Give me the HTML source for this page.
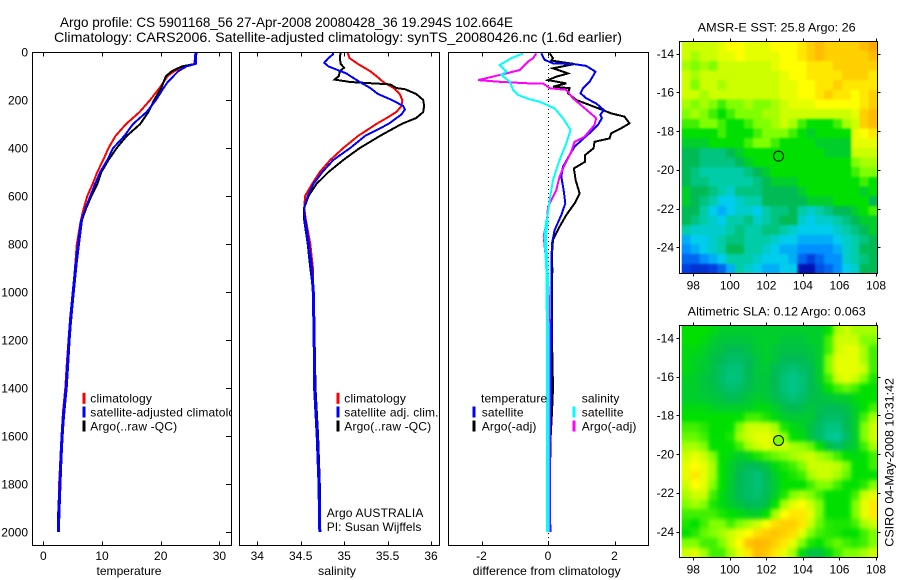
<!DOCTYPE html>
<html>
<head>
<meta charset="utf-8">
<title>Argo profile</title>
<style>
html,body{margin:0;padding:0;background:#fff;}
svg{display:block;}
text{font-family:"Liberation Sans",sans-serif;font-size:12px;fill:#000;}
</style>
</head>
<body>
<svg id="chart" width="900" height="580" viewBox="0 0 900 580" xmlns="http://www.w3.org/2000/svg">
<defs>
<filter id="blurSst" filterUnits="userSpaceOnUse" x="640" y="10" width="260" height="290" color-interpolation-filters="sRGB"><feGaussianBlur stdDeviation="1"/></filter>
<filter id="blurSla" filterUnits="userSpaceOnUse" x="640" y="295" width="260" height="285" color-interpolation-filters="sRGB"><feGaussianBlur stdDeviation="2"/></filter>
<clipPath id="clipSst"><rect x="681.7" y="41.5" width="195.8" height="232"/></clipPath>
<clipPath id="clipSla"><rect x="681.7" y="325.5" width="195.8" height="232"/></clipPath>
</defs>
<rect x="0" y="0" width="900" height="580" fill="#fff"/>
<text x="60" y="27" style="font-size:14px" textLength="453" lengthAdjust="spacingAndGlyphs">Argo profile: CS 5901168_56 27-Apr-2008 20080428_36 19.294S 102.664E</text>
<text x="54" y="42" style="font-size:14px" textLength="568" lengthAdjust="spacingAndGlyphs">Climatology: CARS2006. Satellite-adjusted climatology: synTS_20080426.nc (1.6d earlier)</text>
<g id="p1"></g>
<g id="p2"></g>
<g id="p3"></g>
<g id="m1"></g>
<g id="m2"></g>
<text x="776.7" y="31.5" text-anchor="middle" textLength="158" lengthAdjust="spacingAndGlyphs">AMSR-E SST: 25.8 Argo: 26</text>
<text x="776.7" y="315.5" text-anchor="middle" textLength="178" lengthAdjust="spacingAndGlyphs">Altimetric SLA: 0.12 Argo: 0.063</text>
<text transform="translate(893.5,546.7) rotate(-90)" textLength="168.7" lengthAdjust="spacingAndGlyphs">CSIRO 04-May-2008 10:31:42</text>
</svg>
<script>
// ---------- axis ticks ----------
const depthTicks = [0, 200, 400, 600, 800, 1000, 1200, 1400, 1600, 1800, 2000];
const tempTicks = [0, 10, 20, 30];
const salTicks = [34, 34.5, 35, 35.5, 36];
const diffTicks = [-2, 0, 2];
const lonTicks = [98, 100, 102, 104, 106, 108];
const latTicks = [-14, -16, -18, -20, -22, -24];

// ---------- temperature profiles ----------
const tempDepth = [0,50,60,80,100,125,150,200,250,300,350,400,450,500,550,600,650,700,800,900,1000,1100,1200,1300,1400,1500,1600,1700,1800,1900,2000];
const tempClim = [26,25.7,24.1,22.3,21.2,20.5,19.8,18.2,16.4,14.1,12.3,11.1,10.2,9.2,8.4,7.5,6.9,6.4,5.7,5.4,5.05,4.6,4.3,4.0,3.75,3.35,3.1,2.9,2.7,2.6,2.5];
const tempSat = [26,25.9,24.4,23,22.2,21.2,20.5,19.2,17.6,15.3,13.8,11.9,10.9,9.7,8.8,8,7.2,6.5,6,5.5,5.1,4.7,4.4,4.15,3.9,3.5,3.2,3.0,2.85,2.7,2.55];
const tempArgo = [26,25.8,23.6,21.9,20.9,20.5,20.1,18.9,17.9,16.5,14.2,12.5,11.1,9.9,9.2,8.2,7.3,6.6,6,5.6,5.2,4.8,4.45,4.2,3.95,3.6,3.25,3.0,2.8,2.55,2.5];

// ---------- salinity profiles ----------
const salClimDepth = [0,25,50,80,100,125,150,175,200,225,250,275,300,350,400,450,500,550,600,650,700,800,900,1000,1200,1400,1600,1800,2000];
const salClim = [35.04,35.06,35.16,35.30,35.37,35.45,35.57,35.64,35.67,35.66,35.6,35.49,35.37,35.16,34.99,34.84,34.72,34.63,34.55,34.54,34.56,34.61,34.64,34.645,34.655,34.67,34.69,34.71,34.72];
const salSatDepth = [0,10,25,45,60,70,90,100,125,150,175,200,225,240,260,300,350,400,450,500,550,600,650,700,800,900,1000,1200,1400,1600,1800,2000];
const salSat = [34.875,34.87,34.82,34.77,34.82,34.89,35.03,35.07,35.18,35.30,35.39,35.55,35.68,35.70,35.66,35.51,35.24,35.07,34.875,34.75,34.645,34.58,34.54,34.55,34.59,34.625,34.645,34.655,34.66,34.69,34.71,34.72];
const salArgoDepth = [0,25,50,65,80,100,115,125,135,150,155,175,200,225,250,275,300,350,400,450,500,550,600,650,700,800,900,1000,1200,1400,1600,1800,2000];
const salArgo = [34.96,34.95,34.96,35.0,34.95,34.94,34.89,35.07,35.53,35.6,35.7,35.83,35.91,35.92,35.91,35.83,35.66,35.41,35.18,34.99,34.82,34.68,34.59,34.54,34.54,34.58,34.61,34.645,34.66,34.67,34.7,34.72,34.72];

// ---------- differences ----------
const diffTSatDepth = [6,33,47,51,58,82,124,151,172,193,214,242,262,276,304,332,360,394,429,478,519,575,631,679,742,797,894,1000,1200,1400,1600,1800,2000];
const diffTSat = [-.2,-.1,.15,.8,1.15,1.43,1.25,1.05,.98,1.15,1.45,1.68,1.57,1.62,1.5,1.3,1.07,.8,.65,.45,.4,.47,.52,.4,.2,.12,.1,.1,.1,.09,.07,.06,.07];
const diffTArgoDepth = [6,26,36,50,68,89,103,117,131,144,151,172,200,221,242,256,269,297,318,339,360,374,401,429,457,485,533,589,631,679,728,783,839,908,1000,1200,1400,1500,1600,1800,2000];
const diffTArgo = [.05,.15,.1,.8,.15,.6,.25,0,.55,.15,.65,.6,.85,1.25,1.65,1.9,2.3,2.45,2.2,1.9,1.85,1.4,1.37,1.12,1.12,.78,.83,.95,.8,.55,.35,.15,.12,.13,.12,.12,.15,.12,.08,.05,.05];
const diffSArgoDepth = [6,26,40,75,89,117,124,131,131,151,158,193,228,276,304,353,374,415,471,519,575,644,700,769,853,908,1000,1200,1400,1600,1800,2000];
const diffSArgo = [-.35,-.45,-.6,-.85,-1.25,-2.1,-1.45,-.55,-.15,.05,.55,.75,1.05,1.45,1.4,1.1,.8,.7,.5,.35,.25,0,-.03,-.13,-.07,-.03,.02,.05,.05,.05,.05,.05];
const diffSSatDepth = [6,26,54,82,96,124,158,179,197,207,235,276,325,381,450,533,617,700,769,853,908,1000,1200,1400,1600,1800,2000];
const diffSSat = [-.75,-1.1,-1.45,-1.25,-1.4,-1.15,-1.05,-.9,-.55,-.25,.2,.45,.68,.55,.35,.15,.05,-.03,-.08,-.05,-.03,-.02,-.01,-.01,-.01,-.01,-.01];

// ---------- map grids (colour level, north to south, west to east) ----------
const sstGrid = [
[8,8,8,8,8.5,9,9,8.5,8.5,8.5,9,9,9,9.5,10,10.5,10,10,10,10,10.5,11],
[8,7.5,8,8,8.5,8.5,9,8.5,8.5,8.5,8.5,9,9,9.5,10,10.5,10,10,10,10,10,10.5],
[7.5,7,7.5,7,8,8,8,8,8,8,8.5,9,9,9,9.5,9.5,9.5,10,10,10,10,10],
[8,7.5,8,8,8,8,8,8,8,8,8,8.5,9,9,9.5,9.5,9.5,9.5,10,10,10,9.5],
[8,7,8,8,7.5,8,8,8,8,8,8,8.5,8.5,9,9,9.5,9.5,10,9.5,9.5,9.5,9.5],
[8,8,7.5,8,8,8,8,8,8,8,8,8.5,8.5,9,9,9.5,10,9.5,9.5,9,9.5,10],
[7.5,7,7.5,7,6.5,7,7,7.5,7,7,7.5,8,8.5,8.5,8.5,9,9,9,9,9,9.5,10],
[7,7.5,7,6.5,6,6.5,7,7,7,7.5,7.5,8,8,8,8,8,8,8,8,8.5,10,10.5],
[6.5,6.5,7,7,6.5,6,6,6.5,7,7,7.5,8,7.5,6.5,6,6,6,6.5,7.5,8,10,10.5],
[6,6,6,6,6.5,6,6,6,6.5,7,7,7,6.5,6,5.5,6,6,6,6,8.5,9,9.5],
[5.5,5.5,5.5,6,6,6,6,6.5,7,7,6.5,6,6,6,6,5.5,5.5,5.5,5.5,8.5,8.5,8.5],
[5,5,4.5,4.5,4.5,5,5.5,6,6,6,6,6,6,6,6,6,5.5,5.5,5.5,8,8,8],
[5,5,4.5,4.5,4.5,4.5,5,5.5,6,6,6,6,6,6,6,6,6,6,6,7,7.5,7.5],
[5,4.5,4,4,4,4,4,4.5,5,5.5,6,6,6,6,6,6,6,6,6,6.5,7,7],
[5,4.5,4.5,4,4,4,4,4,4.5,5,5.5,5.5,5.5,6,6,6,6,6,6,6,6.5,6],
[5.5,5,5,4.5,4,3.5,4.5,4.5,4.5,5,5,5,5,5.5,6,6,6,6,6,6,5.5,6],
[5.5,5,4.5,4,3,3,3.5,4,4,5,5,5,5,5,5.5,5.5,5.5,6,6,6,6,5],
[5,5,4,3,2.5,3,3.5,3.5,3,4,4.5,4.5,5,4,3.5,4,4.5,5,5,5.5,6,6.5],
[5,4.5,4,3.5,3,4,4,4.5,3.5,4,4.5,5,5,3.5,3,3.5,3.5,4,4.5,5,5.5,5.5],
[4,3.5,3.5,3.5,3.5,4,4.5,4,4,4.5,4.5,4,3.5,3,3,3,3,3.5,4,4.5,5,5.5],
[2.5,3,3,3.5,4,4.5,4.5,4,4,4,3.5,3,3,2.5,2.5,2.5,2.5,3,3.5,4,4.5,5],
[2,2.5,3,3.5,4,5,5,4,4,3.5,3,2.5,2.5,2,2,2,2,2.5,3.5,4,5,5],
[1.5,1.5,2,2.5,3,4,4,4,3.5,3,3,3,2.5,1.5,1,1.5,2,2,3.5,4,4.5,5],
[1,.8,.8,1,1.5,2.5,4,3.5,3,2.5,2.5,3,3,.3,.3,1.2,1.5,2,3,3.5,5,5]
];
const slaGrid = [
[6,6,6,5.8,5.5,5.5,5.5,5.5,5.5,5.5,5.5,5.5,5.5,5.5,5.5,5.5,6,7.5,8,7.5,7.5,7.5],
[6,6,5.8,5.5,5.3,5.3,5.3,5.3,5.5,5.5,5.5,5.3,5.3,5.3,5.5,5.5,6.5,8,8,8,7,7],
[5.8,5.8,5.6,5.3,5.2,5,5,5.2,5.4,5.5,5.3,5.2,5.2,5.2,5.3,5.5,6.5,8,8.5,8.5,7.5,6.5],
[5.8,5.6,5.5,5.2,5,4.8,4.8,5,5.3,5.5,5.3,5,5,5,5.2,5.5,7,8.5,8.5,8.5,7.5,6.5],
[5.8,5.6,5.4,5.2,4.8,4.6,4.6,5,5.3,5.4,5,4.8,4.6,4.8,5,5.5,7,8.5,8.5,8.5,8,6.5],
[5.6,5.5,5.3,5.1,4.8,4.5,4.6,5,5.3,5.3,5,4.6,4.4,4.6,5,5.5,6.5,8,8.5,8,7,6.2],
[5.5,5.5,5.3,5.2,4.9,4.7,4.8,5.1,5.3,5.3,5,4.6,4.4,4.6,5,5.3,6,6.5,6.8,6.5,6,6],
[5.5,5.5,5.4,5.3,5.2,5,5.1,5.3,5.5,5.4,5.1,4.8,4.6,4.8,5.1,5.2,5.3,5.5,5.5,5.8,6,6],
[5.8,5.8,5.8,5.6,5.5,5.5,5.5,5.6,5.8,5.8,5.5,5.2,5,5.1,5.3,5.1,5,5,5.2,5.5,6,6.5],
[6,6,6,6,6,6,6,6.5,6.5,6.2,5.8,5.5,5.4,5.4,5.4,5,4.8,4.8,5,5.5,6.5,7.5],
[6.5,6.5,6.3,6,6,6,7,8,8,8,7.5,6.2,5.8,5.6,5.2,4.8,4.5,4.5,5,5.5,7,8],
[6.8,6.8,6.5,6,6,6.2,7.5,8,8.5,8.5,8,7.2,6,5.8,5.2,4.8,4.3,4.2,4.8,5.5,7,8],
[7.5,7.5,7,6,6,6,6.5,7.5,8,8.5,8,8,7.5,7.2,6.8,6,5.2,4.8,5.2,5.5,6.5,7.5],
[8,8.5,8,7,6,5.8,5.5,5.7,6.2,6.5,6.8,7,7.5,7.8,8,7.5,7,6.5,6,5.8,6,6.5],
[8.5,9,8.5,7.5,6,5.5,5.2,5,5,5.3,5.8,6.2,6.5,7,8,8,8,7.8,7,6,6,6.5],
[8.5,9.5,8.5,7.5,6,5.5,5,4.8,4.6,5,5.5,6,6.2,6.5,7.5,8,8,7.5,6.8,6,6,6],
[8,9,8.5,7,6,5.4,5,4.8,4.6,4.9,5.4,6,6,6,6.5,7,7,6.5,6,6,6.3,7],
[7.5,8,8,6.5,5.8,5.4,5,4.8,4.7,5,5.5,6.2,7,7.5,7,6.5,6,6,6,6.5,8,8.5],
[7,7.5,7,6.2,5.8,5.5,5.2,5,4.9,5.2,6,7.5,8.5,9,8,7,6,6,6,7,8.5,9.5],
[6.5,6.5,6.5,6.5,6.2,6,5.8,5.6,5.5,6,7.5,9,9.5,9.5,8.5,7,6,6,6,7,8.5,9.5],
[6.2,6,6.5,7,7,6.5,7,7.5,8,9,9.7,10,10,9.5,8,6.8,6.3,6.2,6.2,6.5,7.5,8],
[6,6.3,6.8,7,7.5,8,8.5,9,9.7,10,10.3,10,9.7,8.5,7,6.5,6.3,6.2,6,6,6.5,7],
[7,7,6.5,6.5,7,8,9,10.3,10.6,10.5,10,9.5,8.5,7,6.2,6,6.5,6.8,6.5,6.3,6.5,7],
[8,8.5,7.5,6.5,6.5,7.5,8.5,9.5,10.5,10.2,9.5,8.5,7.5,5.8,5.2,5.2,5.8,6.5,7,7,7.5,8]
];
const floatPosition = [102.664, -19.294];
const slaAtFloat = [7];
const sstAtFloat = [6];

// ---------- helpers ----------
const NS = 'http://www.w3.org/2000/svg';
function mk(parent, tag, props) {
  const n = document.createElementNS(NS, tag);
  for (const k in props) n.setAttribute(k, props[k]);
  parent.appendChild(n);
  return n;
}
const colorStops = [[0,0,160],[0,64,224],[0,144,255],[0,204,238],[0,204,168],[0,187,85],[0,224,0],[128,255,0],[204,255,0],[255,255,0],[255,208,0],[255,168,0]];
function levelColor(v) {
  const i = Math.max(0, Math.min(colorStops.length - 2, Math.floor(v)));
  const f = v - i;
  const c = colorStops[i].map((a, k) => Math.round(a + (colorStops[i + 1][k] - a) * f));
  return 'rgb(' + c.join(',') + ')';
}
const depthY = d => 52 + d * 0.24;
const tempX = v => 43.3 + v * 5.87;
const salX = v => 257.3 + (v - 34) * 86.85;
const diffX = v => 548 + v * 33.25;
const deepStart = 700;

function label(parent, x, y, str, anchor, name) {
  const t = mk(parent, 'text', {x: x, y: y, 'text-anchor': anchor});
  t.textContent = str;
  
  
  return t;
}
function seg(parent, x1, y1, x2, y2, name) {
  const l = mk(parent, 'line', {x1: x1, y1: y1, x2: x2, y2: y2, stroke: '#000', 'stroke-width': 1, 'shape-rendering': 'crispEdges'});
  
  
  return l;
}
function frame(parent, x0, x1, y0, y1, name, fill) {
  const r = mk(parent, 'rect', {x: x0, y: y0, width: x1 - x0, height: y1 - y0, fill: fill, stroke: fill === 'none' ? '#000' : 'none', 'stroke-width': 1, 'shape-rendering': 'crispEdges'});
  
  
  return r;
}
function series(parent, depths, vals, xf, color, width, name) {
  const pts = depths.map((d, i) => xf(vals[i]).toFixed(1) + ',' + depthY(d).toFixed(1)).join(' ');
  const p = mk(parent, 'polyline', {points: pts, fill: 'none', stroke: color, 'stroke-width': width, 'stroke-linejoin': 'miter', 'shape-rendering': 'crispEdges'});
  
  
  return p;
}
// Near-vertical stretches of the aliased source plot read thicker than the slanted ones.
function seriesDeep(parent, depths, vals, xf, color, width, name) {
  const keep = depths.map((d, i) => i).filter(i => depths[i] >= deepStart);
  series(parent, keep.map(i => depths[i]), keep.map(i => vals[i]), xf, color, width, name);
}
function legendRow(parent, sx, tx, yc, color, str, name) {
  if (color) {
    const s = mk(parent, 'rect', {x: sx - 1.5, y: yc - 5.5, width: 3, height: 11, fill: color});
    
    
  }
  const t = label(parent, tx, yc + 4.3, str, 'start', name + '-label');
  t.style.letterSpacing = '0.15px';
}
function panelAxes(g, x0, x1, y0, y1, xf, ticks, name, xTitle, titleX, titleLen) {
  frame(g, x0, x1, y0, y1, name + '-frame', 'none');
  ticks.forEach(v => {
    const x = Math.round(xf(v)) + .5;
    seg(g, x, y0, x, y0 + 4, name + '-top-tick');
    seg(g, x, y1 - 4, x, y1, name + '-bottom-tick');
    label(g, xf(v), 560, String(v), 'middle', name + '-x-tick-label');
  });
  const t = label(g, titleX, 575, xTitle, 'middle', name + '-x-axis-title');
  t.setAttribute('textLength', titleLen);
  t.setAttribute('lengthAdjust', 'spacingAndGlyphs');
}

// ---------- temperature panel ----------
const p1 = document.getElementById('p1');
frame(p1, 32.5, 231.5, 52.5, 545.5, 'temperature-plot-area', '#fff');
series(p1, tempDepth, tempClim, tempX, '#ff0000', 2, 'temperature-climatology-line');
series(p1, tempDepth, tempArgo, tempX, '#000000', 2, 'temperature-argo-line');
series(p1, tempDepth, tempSat, tempX, '#0000ff', 2, 'temperature-satellite-line');
seriesDeep(p1, tempDepth, tempSat, tempX, '#0000ff', 3, 'temperature-satellite-line-deep');
series(p1, tempDepth.slice(0, 2), tempSat.slice(0, 2), tempX, '#0000ff', 3, 'temperature-satellite-line-mixed-layer');
panelAxes(p1, 32.5, 231.5, 52.5, 545.5, tempX, tempTicks, 'temperature', 'temperature', 129, 65);
depthTicks.forEach(d => {
  const y = Math.round(depthY(d)) + .5;
  seg(p1, 226, y, 231.5, y, 'depth-tick');
  label(p1, 28, depthY(d) + 4.3, String(d), 'end', 'depth-tick-label');
});
legendRow(p1, 84, 90.3, 398.3, '#ff0000', 'climatology', 'temperature-legend-climatology');
legendRow(p1, 84, 90.3, 412, '#0000ff', 'satellite-adjusted climatology', 'temperature-legend-satellite');
legendRow(p1, 84, 90.3, 426, '#000000', 'Argo(..raw -QC)', 'temperature-legend-argo');

// ---------- salinity panel ----------
const p2 = document.getElementById('p2');
const gutter = mk(p2, 'rect', {x: 232, y: 50, width: 215, height: 497, fill: '#fff'});


frame(p2, 239.5, 439.5, 52.5, 545.5, 'salinity-plot-area', '#fff');
series(p2, salClimDepth, salClim, salX, '#ff0000', 2, 'salinity-climatology-line');
series(p2, salArgoDepth, salArgo, salX, '#000000', 2, 'salinity-argo-line');
series(p2, salSatDepth, salSat, salX, '#0000ff', 2, 'salinity-satellite-line');
seriesDeep(p2, salSatDepth, salSat, salX, '#0000ff', 3, 'salinity-satellite-line-deep');
panelAxes(p2, 239.5, 439.5, 52.5, 545.5, salX, salTicks, 'salinity', 'salinity', 337, 38);
legendRow(p2, 338, 344.3, 398.3, '#ff0000', 'climatology', 'salinity-legend-climatology');
legendRow(p2, 338, 344.3, 412, '#0000ff', 'satellite adj. clim.', 'salinity-legend-satellite');
legendRow(p2, 338, 344.3, 426, '#000000', 'Argo(..raw -QC)', 'salinity-legend-argo');
label(p2, 326.7, 517, 'Argo AUSTRALIA', 'start', 'data-centre-label').style.letterSpacing = '0.15px';
label(p2, 326.7, 531, 'PI: Susan Wijffels', 'start', 'principal-investigator-label').style.letterSpacing = '0.05px';

// ---------- difference panel ----------
const p3 = document.getElementById('p3');
frame(p3, 448.5, 648.5, 52.5, 545.5, 'difference-plot-area', '#fff');
const zero = mk(p3, 'line', {x1: diffX(0) + .5, x2: diffX(0) + .5, y1: 53, y2: 545, stroke: '#000', 'stroke-width': 1, 'stroke-dasharray': '1 3', 'shape-rendering': 'crispEdges'});


series(p3, diffTArgoDepth, diffTArgo, diffX, '#000000', 2, 'difference-temperature-argo-line');
series(p3, diffTSatDepth, diffTSat, diffX, '#0000ff', 2, 'difference-temperature-satellite-line');
series(p3, diffSArgoDepth, diffSArgo, diffX, '#ff00ff', 2, 'difference-salinity-argo-line');
series(p3, diffSSatDepth, diffSSat, diffX, '#00ffff', 2, 'difference-salinity-satellite-line');
seriesDeep(p3, diffSSatDepth, diffSSat, diffX, '#00ffff', 3.4, 'difference-salinity-satellite-line-deep');
panelAxes(p3, 448.5, 648.5, 52.5, 545.5, diffX, diffTicks, 'difference', 'difference from climatology', 546.7, 148);
legendRow(p3, 474, 481, 398.3, null, 'temperature', 'difference-legend-temperature-heading');
legendRow(p3, 474, 481.7, 412, '#0000ff', 'satellite', 'difference-legend-temperature-satellite');
legendRow(p3, 474, 481.7, 426, '#000000', 'Argo(-adj)', 'difference-legend-temperature-argo');
legendRow(p3, 574, 581.7, 398.3, null, 'salinity', 'difference-legend-salinity-heading');
legendRow(p3, 574, 581.7, 412, '#00ffff', 'satellite', 'difference-legend-salinity-satellite');
legendRow(p3, 574, 581.7, 426, '#ff00ff', 'Argo(-adj)', 'difference-legend-salinity-argo');

// ---------- maps ----------
function drawMap(g, grid, y0, y1, latRef, floatLevel, name, xLabelY, clipId, filterId) {
  const x0 = 679.5, x1 = 877.5;
  const lonX = v => 693.3 + (v - 98) * 18.27;
  const latY = v => latRef + (-14 - v) * 19.35;
  const cols = grid[0].length, rows = grid.length;
  const cx0 = 681.7, cw = (x1 - cx0) / cols, ch = (y1 - y0) / rows;
  const clipG = mk(g, 'g', {'clip-path': 'url(#' + clipId + ')'});
  
  
  const blurG = mk(clipG, 'g', {filter: 'url(#' + filterId + ')'});
  const pad = 14;
  grid.forEach((row, r) => row.forEach((v, c) => {
    const left = cx0 + c * cw - (c === 0 ? pad : 0);
    const right = cx0 + (c + 1) * cw + (c === cols - 1 ? pad : 0);
    const top = y0 + r * ch - (r === 0 ? pad : 0);
    const bottom = y0 + (r + 1) * ch + (r === rows - 1 ? pad : 0);
    const cell = mk(blurG, 'rect', {x: left.toFixed(2), y: top.toFixed(2), width: (right - left + .4).toFixed(2), height: (bottom - top + .4).toFixed(2), fill: levelColor(v), 'shape-rendering': 'crispEdges'});
    
    
  }));
  frame(g, x0, x1, y0, y1, name + '-frame', 'none');
  lonTicks.forEach(v => {
    const x = Math.round(lonX(v)) + .5;
    seg(g, x, y0 - 3, x, y0, name + '-top-tick');
    seg(g, x, y1, x, y1 + 3, name + '-bottom-tick');
    label(g, lonX(v), xLabelY, String(v), 'middle', name + '-longitude-label');
  });
  latTicks.forEach(v => {
    const y = Math.round(latY(v)) + .5;
    seg(g, x0 - 3, y, x0, y, name + '-left-tick');
    seg(g, x1, y, x1 + 3, y, name + '-right-tick');
    label(g, 674, latY(v) + 4.3, String(v), 'end', name + '-latitude-label');
  });
  const m = mk(g, 'circle', {cx: lonX(floatPosition[0]), cy: latY(floatPosition[1]), r: 5, fill: levelColor(floatLevel), stroke: '#000', 'stroke-width': 1});
  
  
}
drawMap(document.getElementById('m1'), sstGrid, 41.5, 273.5, 53.7, sstAtFloat[0], 'sst-map', 289.6, 'clipSst', 'blurSst');
drawMap(document.getElementById('m2'), slaGrid, 325.5, 557.5, 338, slaAtFloat[0], 'sla-map', 573.6, 'clipSla', 'blurSla');
</script>
</body>
</html>
